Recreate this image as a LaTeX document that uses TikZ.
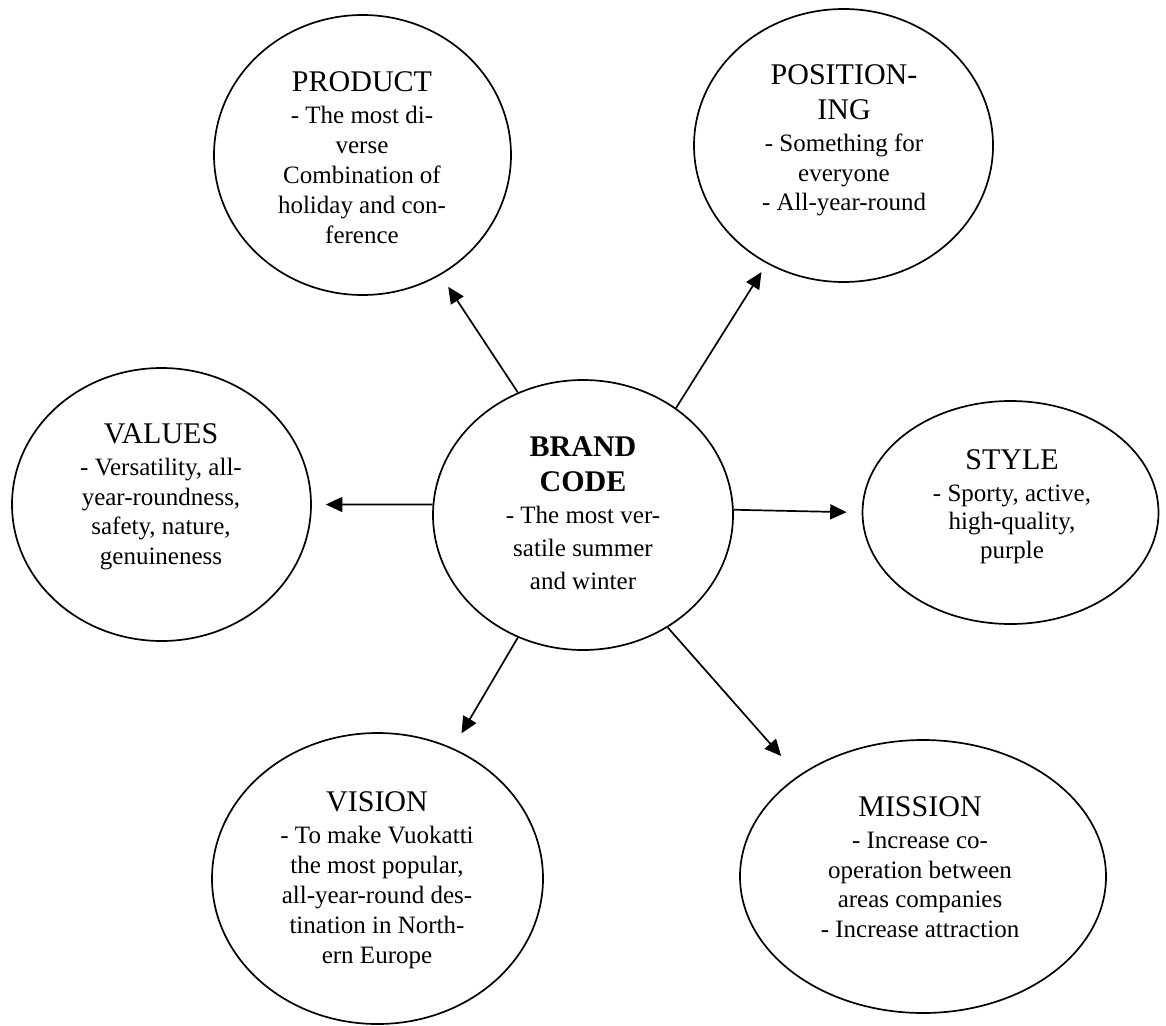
\documentclass[tikz,border=0pt]{standalone}
\usepackage{fontspec}
\setmainfont{Liberation Serif}
\usetikzlibrary{shapes.geometric,arrows.meta}
\newcommand\bubtxt[3]{\vtop{\hsize=400pt\parindent=0pt\parskip=0pt\centering
  \begingroup\fontsize{30}{35.5}\selectfont #1\par\endgroup
  \vskip\dimexpr32.3pt-#3pt\relax
  \fontsize{25}{#3}\selectfont #2\par}}
\begin{document}
\begin{tikzpicture}[x=1pt,y=-1pt,
  bubble/.style={ellipse, draw, line width=1.7pt, inner sep=0pt},
  btext/.style={anchor=base, inner sep=0pt},
  arr/.style={-{Triangle[length=16.5pt,width=15pt]}, line width=1.7pt}]
\fill[white] (0,0) rectangle (1166,1025);
\useasboundingbox (0,0) rectangle (1166,1025);
% bubbles
\node[bubble, minimum width=297pt, minimum height=280pt] (prod) at (362.5,155) {};
\node[bubble, minimum width=299pt, minimum height=273pt] (pos) at (843.5,145.5) {};
\node[bubble, minimum width=299pt, minimum height=273pt] (val) at (161.5,504.5) {};
\node[bubble, minimum width=300pt, minimum height=270pt] (bc) at (583,515) {};
\node[bubble, minimum width=296pt, minimum height=223pt] (sty) at (1010.5,512.5) {};
\node[bubble, minimum width=331pt, minimum height=291pt] (vis) at (377.5,878.5) {};
\node[bubble, minimum width=366pt, minimum height=273pt] (mis) at (923,876.5) {};
% texts
\node[btext] (prodt) at (362,91) {\bubtxt{PRODUCT}{- The most di-\\verse\\Combination of\\holiday and con-\\ference}{30}};
\node[btext] (post) at (844,84) {\bubtxt{POSITION-\\ING}{- Something for\\everyone\\- All-year-round}{29.5}};
\node[btext] (valt) at (161,443) {\bubtxt{VALUES}{- Versatility, all-\\year-roundness,\\safety, nature,\\genuineness}{29.7}};
\node[btext] (bct) at (583,456) {\bubtxt{\bfseries BRAND\\CODE}{- The most ver-\\satile summer\\and winter}{33}};
\node[btext] (styt) at (1012,469) {\bubtxt{STYLE}{- Sporty, active,\\high-quality,\\purple}{28.5}};
\node[btext] (vist) at (377,811) {\bubtxt{VISION}{- To make Vuokatti\\the most popular,\\all-year-round des-\\tination in North-\\ern Europe}{30}};
\node[btext] (mist) at (920,816) {\bubtxt{MISSION}{- Increase co-\\operation between\\areas companies\\- Increase attraction}{29.7}};
% connectors
\draw[arr, shorten >=14pt] (bc.118) -- (prod.-57);
\draw[arr, shorten >=10pt] (bc.49) -- (pos.-123);
\draw[arr, shorten >=14pt] (bc.176) -- (val.0);
\draw[arr, shorten >=15pt] (bc.2) -- (sty.180);
\draw[arr, shorten >=17pt] (bc.-118) -- (vis.60);
\draw[arr, shorten >=26pt] (bc.-53) -- (mis.141);
\end{tikzpicture}
\end{document}
